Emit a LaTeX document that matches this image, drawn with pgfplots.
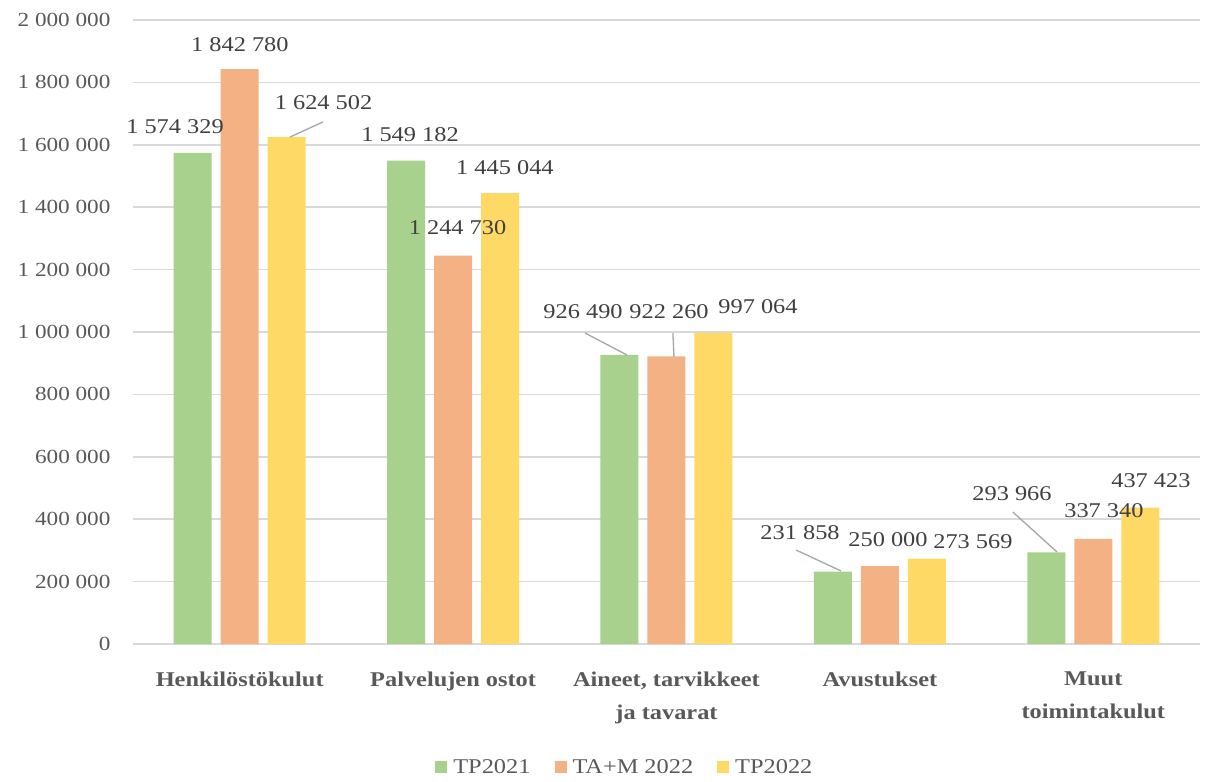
\documentclass[border=0pt]{standalone}
\usepackage{fontspec}
\setmainfont{Liberation Serif}[FakeStretch=1.16]
\usepackage{pgfplots}
\pgfplotsset{compat=1.18}
\definecolor{cgreen}{HTML}{A9D18E}
\definecolor{corange}{HTML}{F4B183}
\definecolor{cyellow}{HTML}{FFD966}
\definecolor{gridc}{HTML}{D9D9D9}
\definecolor{tickc}{HTML}{595959}
\definecolor{labc}{HTML}{404040}
\definecolor{leadc}{HTML}{A6A6A6}
\begin{document}
\begin{tikzpicture}
\path[use as bounding box] (-133pt,-137pt) rectangle (1073pt,644pt);
\begin{axis}[
  at={(0pt,0pt)}, anchor=south west,
  width=1067pt, height=624pt, scale only axis,
  xmin=-0.5, xmax=4.5, ymin=0, ymax=2000000,
  ybar=9pt, bar width=38pt,
  clip=false,
  xtick={0,1,2,3,4},
  xticklabels={Henkilöstökulut,Palvelujen ostot,{Aineet, tarvikkeet\\ja tavarat},Avustukset,{Muut\\toimintakulut}},
  xticklabel style={font=\fontsize{21}{33}\selectfont\bfseries, text=tickc, align=center, yshift=-24pt},
  ytick={0,200000,400000,600000,800000,1000000,1200000,1400000,1600000,1800000,2000000},
  yticklabels={0,200 000,400 000,600 000,800 000,1 000 000,1 200 000,1 400 000,1 600 000,1 800 000,2 000 000},
  yticklabel style={font=\fontsize{20}{24}\selectfont, text=tickc, xshift=-19pt},
  scaled y ticks=false,
  major tick length=0pt,
  tick style={draw=none},
  ymajorgrids, grid style={draw=gridc, line width=1.5pt},
  separate axis lines,
  x axis line style={draw=gridc, line width=1.5pt},
  y axis line style={draw=none},
  legend columns=3,
  legend style={draw=none, at={(0.461,-0.197)}, anchor=center,
    font=\fontsize{21}{24}\selectfont, text=tickc,
    /tikz/every even column/.append style={column sep=22pt}},
  legend image code/.code={\fill[#1] (0pt,-6pt) rectangle (12pt,6pt); \path (16pt,0pt);},
]
\addplot[fill=cgreen, draw=none] coordinates {(0,1574329) (1,1549182) (2,926490) (3,231858) (4,293966)};
\addplot[fill=corange, draw=none] coordinates {(0,1842780) (1,1244730) (2,922260) (3,250000) (4,337340)};
\addplot[fill=cyellow, draw=none] coordinates {(0,1624502) (1,1445044) (2,997064) (3,273569) (4,437423)};
\legend{TP2021,TA+M 2022,TP2022}
\begin{scope}[every node/.style={font=\fontsize{21}{25}\selectfont, text=labc, inner sep=0pt}]
\node at (axis cs:-0.303,1658600) {1 574 329};
\node at (axis cs:0.001,1921500) {1 842 780};
\node at (axis cs:0.393,1734000) {1 624 502};
\node at (axis cs:0.798,1633000) {1 549 182};
\node at (axis cs:1.021,1333300) {1 244 730};
\node at (axis cs:1.243,1527200) {1 445 044};
\node at (axis cs:1.609,1065700) {926 490};
\node at (axis cs:2.012,1065700) {922 260};
\node at (axis cs:2.429,1081700) {997 064};
\node at (axis cs:2.626,355800) {231 858};
\node at (axis cs:3.038,333300) {250 000};
\node at (axis cs:3.436,326900) {273 569};
\node at (axis cs:3.619,480800) {293 966};
\node at (axis cs:4.050,426300) {337 340};
\node at (axis cs:4.270,522400) {437 423};
\end{scope}
\begin{scope}[leadc, line width=1.3pt]
\draw (axis cs:0.236,1625000) -- (axis cs:0.390,1673100);
\draw (axis cs:1.618,996800) -- (axis cs:1.815,926300);
\draw (axis cs:2.030,996800) -- (axis cs:2.035,920000);
\draw (axis cs:2.607,301300) -- (axis cs:2.818,234000);
\draw (axis cs:3.623,423000) -- (axis cs:3.830,294900);
\end{scope}
\end{axis}
\end{tikzpicture}
\end{document}
